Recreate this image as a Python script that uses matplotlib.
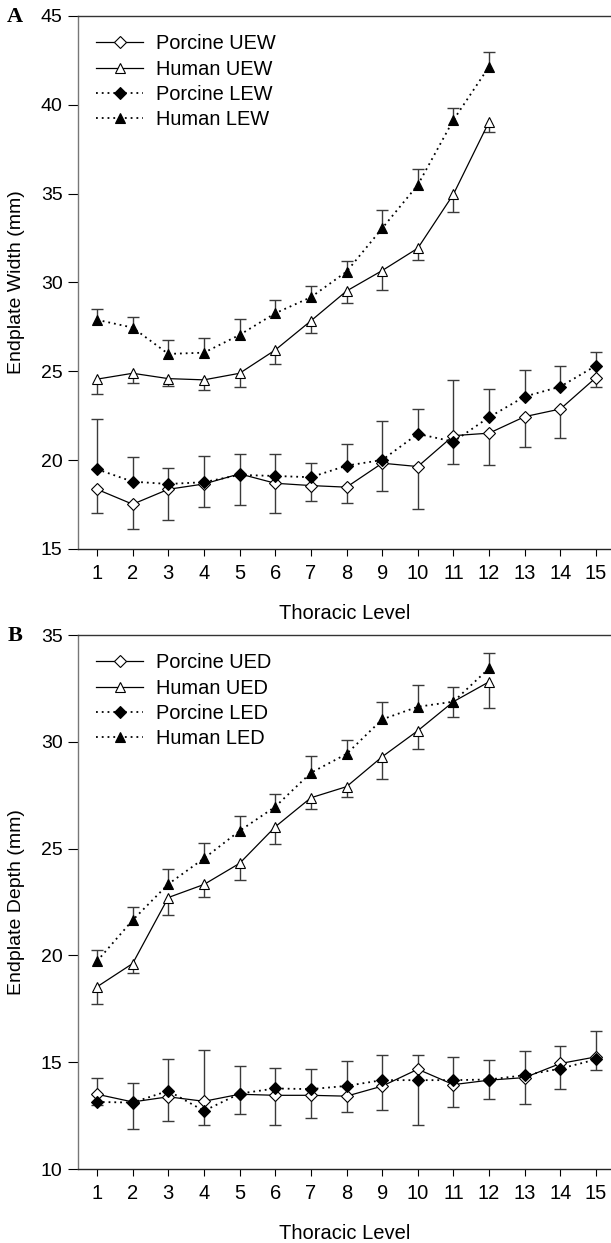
import numpy as np
import matplotlib
matplotlib.use('Agg')
import matplotlib.pyplot as plt

plt.rcParams['font.family'] = ['Liberation Sans', 'DejaVu Sans']

levels = [1, 2, 3, 4, 5, 6, 7, 8, 9, 10, 11, 12, 13, 14, 15]
human_levels = levels[:12]

# panel A - endplate width (mm)
porcine_uew = [18.36, 17.52, 18.36, 18.66, 19.23, 18.70, 18.57, 18.48, 19.83, 19.64, 21.38, 21.52, 22.45, 22.88, 24.65]
porcine_uew_sd = [1.35, 1.37, 1.75, 1.30, 1.75, 1.65, 0.85, 0.90, 1.55, 2.40, 1.60, 1.80, 1.70, 1.65, 0.55]
human_uew = [24.56, 24.89, 24.59, 24.52, 24.89, 26.20, 27.84, 29.52, 30.67, 31.93, 34.97, 39.05]
human_uew_sd = [0.85, 0.55, 0.40, 0.55, 0.75, 0.80, 0.70, 0.70, 1.10, 0.65, 1.00, 0.60]
porcine_lew = [19.49, 18.79, 18.66, 18.76, 19.17, 19.11, 19.04, 19.69, 20.01, 21.48, 21.04, 22.42, 23.58, 24.14, 25.32]
porcine_lew_sd = [2.85, 1.40, 0.90, 1.45, 1.15, 1.25, 0.80, 1.20, 2.20, 1.40, 3.50, 1.60, 1.50, 1.15, 0.75]
human_lew = [27.90, 27.46, 25.98, 26.05, 27.05, 28.27, 29.17, 30.61, 33.05, 35.49, 39.15, 42.15]
human_lew_sd = [0.60, 0.60, 0.80, 0.85, 0.90, 0.75, 0.65, 0.60, 1.05, 0.90, 0.65, 0.85]

# panel B - endplate depth (mm)
porcine_ued = [13.50, 13.14, 13.38, 13.17, 13.50, 13.45, 13.45, 13.41, 13.88, 14.67, 13.95, 14.16, 14.28, 14.94, 15.25]
porcine_ued_sd = [0.50, 1.29, 1.13, 1.12, 0.92, 1.40, 1.07, 0.74, 1.10, 2.61, 1.03, 0.88, 1.22, 1.19, 0.63]
human_ued = [18.53, 19.62, 22.71, 23.32, 24.31, 26.02, 27.38, 27.90, 29.30, 30.52, 31.88, 32.81]
human_ued_sd = [0.80, 0.45, 0.80, 0.60, 0.80, 0.82, 0.53, 0.50, 1.04, 0.87, 0.70, 1.24]
porcine_led = [13.14, 13.11, 13.66, 12.72, 13.53, 13.77, 13.74, 13.89, 14.16, 14.16, 14.16, 14.19, 14.39, 14.70, 15.13]
porcine_led_sd = [1.14, 0.90, 1.47, 2.87, 1.30, 0.95, 0.95, 1.16, 1.20, 1.20, 1.09, 0.93, 1.13, 1.07, 1.32]
human_led = [19.73, 21.65, 23.34, 24.54, 25.83, 26.96, 28.55, 29.43, 31.05, 31.64, 31.88, 33.44]
human_led_sd = [0.50, 0.60, 0.70, 0.73, 0.70, 0.60, 0.80, 0.65, 0.80, 1.00, 0.67, 0.73]

ERR_COLOR = '#3a3a3a'


def one_sided_err(ax, x, y, err, up):
    x = np.asarray(x)
    y = np.asarray(y)
    err = np.asarray(err)
    end = y + err if up else y - err
    ax.vlines(x, y, end, color=ERR_COLOR, lw=1.0, zorder=1)
    ax.plot(x, end, ls='none', marker='_', ms=8, mew=1.0, color=ERR_COLOR, zorder=1)


def panel(ax, series, ylabel, ylim, yticks):
    # series: (x, y, sd, up, label, marker, filled, ls)
    for x, y, sd, up, label, marker, filled, ls in series:
        one_sided_err(ax, x, y, sd, up)
    for x, y, sd, up, label, marker, filled, ls in series:
        ms = 5.8 if marker == 'D' else 7.2
        ax.plot(x, y, ls=ls, lw=0.9 if ls == '-' else 1.3, color='black',
                marker=marker, ms=ms, mew=0.8, mec='black',
                mfc='black' if filled else 'white', label=label, zorder=3)
    ax.set_xlim(0.467, 15.42)
    ax.set_ylim(*ylim)
    ax.set_xticks(levels)
    ax.set_yticks(yticks)
    ax.tick_params(axis='x', length=5, width=0.8, pad=6, labelsize=14.5, direction='out')
    ax.tick_params(axis='y', length=7, width=0.8, pad=4, labelsize=14, direction='out')
    ax.spines['right'].set_visible(False)
    ax.spines['left'].set_color('#777777')
    ax.spines['top'].set_color('#333333')
    ax.spines['bottom'].set_color('#222222')
    for s in ax.spines.values():
        s.set_linewidth(1.0)
    ax.set_ylabel(ylabel, fontsize=14)
    ax.yaxis.set_label_coords(-0.0994, 0.5)
    ax.set_xlabel('Thoracic Level', fontsize=14.5, va='baseline')
    ax.xaxis.set_label_coords(0.5, -0.1315)
    ax.legend(loc='upper left', bbox_to_anchor=(0.034, 0.966), frameon=False,
              fontsize=14.4, handlelength=2.35, handletextpad=0.65,
              labelspacing=0.32, borderpad=0, borderaxespad=0)


fig = plt.figure(figsize=(6.11, 12.43), dpi=100)
ax_a = fig.add_axes([0.1277, 0.55833, 0.8723, 0.4288])
ax_b = fig.add_axes([0.1277, 0.05953, 0.8723, 0.4296])

dotted = (0, (1, 2.2))
panel(ax_a, [
    (levels, porcine_uew, porcine_uew_sd, False, 'Porcine UEW', 'D', False, '-'),
    (human_levels, human_uew, human_uew_sd, False, 'Human UEW', '^', False, '-'),
    (levels, porcine_lew, porcine_lew_sd, True, 'Porcine LEW', 'D', True, dotted),
    (human_levels, human_lew, human_lew_sd, True, 'Human LEW', '^', True, dotted),
], 'Endplate Width (mm)', (15, 45), [15, 20, 25, 30, 35, 40, 45])

panel(ax_b, [
    (levels, porcine_ued, porcine_ued_sd, False, 'Porcine UED', 'D', False, '-'),
    (human_levels, human_ued, human_ued_sd, False, 'Human UED', '^', False, '-'),
    (levels, porcine_led, porcine_led_sd, True, 'Porcine LED', 'D', True, dotted),
    (human_levels, human_led, human_led_sd, True, 'Human LED', '^', True, dotted),
], 'Endplate Depth (mm)', (10, 35), [10, 15, 20, 25, 30, 35])

fig.text(15 / 611, 1 - 17 / 1243, 'A', fontsize=16, fontweight='bold',
         family='Liberation Serif', ha='center', va='center')
fig.text(15 / 611, 1 - 636 / 1243, 'B', fontsize=16, fontweight='bold',
         family='Liberation Serif', ha='center', va='center')

fig.savefig('out.png', dpi=100)
